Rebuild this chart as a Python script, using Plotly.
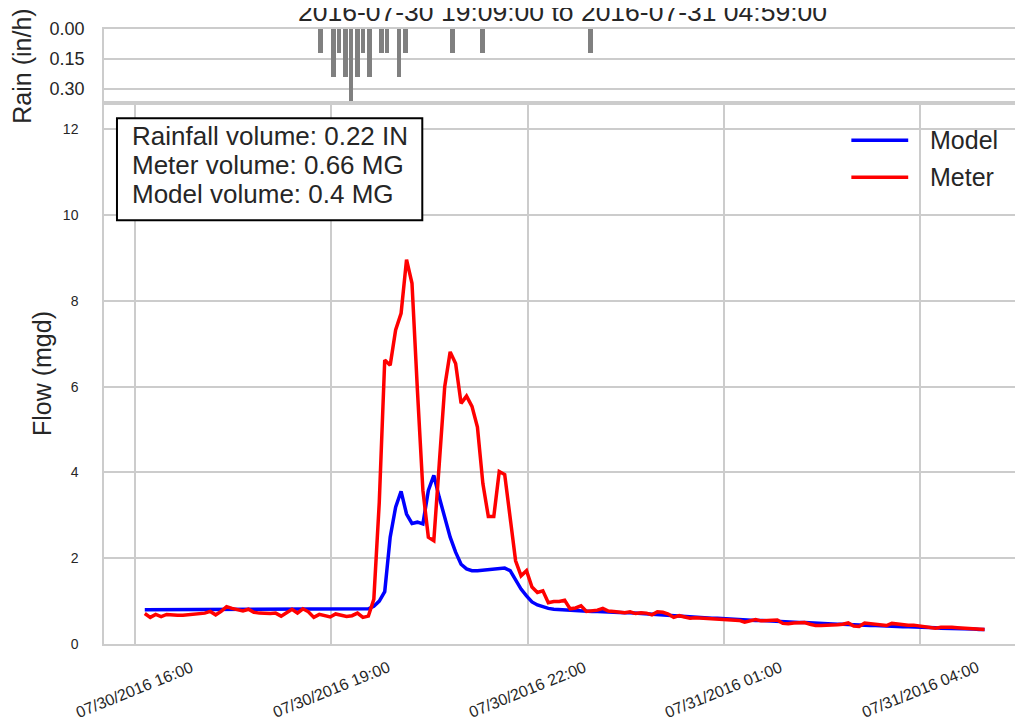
import pandas as pd
import plotly.graph_objects as go

# ── Data ──────────────────────────────────────────────────────────────────────
times = pd.date_range("2016-07-30 16:09", periods=155, freq="5min")

meter = [
    0.71, 0.62, 0.69, 0.64, 0.69, 0.67, 0.67, 0.67, 0.68, 0.69,
    0.70, 0.72, 0.76, 0.68, 0.76, 0.87, 0.83, 0.79, 0.77, 0.81,
    0.74, 0.72, 0.71, 0.71, 0.72, 0.65, 0.73, 0.81, 0.72, 0.82,
    0.75, 0.62, 0.69, 0.67, 0.63, 0.70, 0.67, 0.64, 0.66, 0.72,
    0.62, 0.65, 1.04, 3.30, 6.62, 6.50, 7.32, 7.71, 8.96, 8.41,
    5.90, 3.58, 2.49, 2.41, 4.20, 6.00, 6.81, 6.54, 5.61, 5.78,
    5.54, 5.06, 3.74, 2.97, 2.97, 4.02, 3.95, 2.95, 1.94, 1.59,
    1.71, 1.33, 1.20, 1.24, 0.96, 0.99, 0.99, 1.02, 0.82, 0.84,
    0.89, 0.76, 0.77, 0.79, 0.83, 0.77, 0.76, 0.74, 0.73, 0.75,
    0.71, 0.73, 0.72, 0.68, 0.75, 0.74, 0.70, 0.62, 0.66, 0.63,
    0.60, 0.61, 0.60, 0.60, 0.59, 0.58, 0.58, 0.57, 0.56, 0.55,
    0.51, 0.55, 0.57, 0.54, 0.55, 0.57, 0.56, 0.48, 0.47, 0.49,
    0.49, 0.50, 0.46, 0.43, 0.43, 0.43, 0.44, 0.45, 0.46, 0.49,
    0.42, 0.41, 0.49, 0.47, 0.46, 0.45, 0.43, 0.48, 0.46, 0.45,
    0.44, 0.44, 0.42, 0.40, 0.38, 0.37, 0.39, 0.40, 0.39, 0.38,
    0.37, 0.36, 0.35, 0.35, 0.34,
]

model = [
    0.80, 0.80, 0.80, 0.80, 0.80, 0.80, 0.80, 0.80, 0.80, 0.80,
    0.80, 0.80, 0.80, 0.80, 0.80, 0.80, 0.80, 0.80, 0.80, 0.80,
    0.81, 0.81, 0.81, 0.81, 0.81, 0.81, 0.81, 0.81, 0.81, 0.81,
    0.81, 0.81, 0.81, 0.81, 0.81, 0.81, 0.81, 0.81, 0.81, 0.81,
    0.81, 0.82, 0.88, 1.00, 1.22, 2.49, 3.19, 3.56, 3.03, 2.81,
    2.84, 2.80, 3.58, 3.93, 3.42, 2.95, 2.49, 2.14, 1.86, 1.75,
    1.71, 1.71, 1.72, 1.73, 1.73, 1.74, 1.77, 1.71, 1.49, 1.28,
    1.12, 0.98, 0.91, 0.86, 0.83, 0.81, 0.80, 0.79, 0.78, 0.78,
    0.77, 0.77, 0.76, 0.76, 0.75, 0.75, 0.74, 0.74, 0.73, 0.73,
    0.72, 0.72, 0.71, 0.70, 0.70, 0.69, 0.68, 0.67, 0.66, 0.65,
    0.63, 0.62, 0.62, 0.61, 0.60, 0.60, 0.59, 0.59, 0.58, 0.57,
    0.56, 0.56, 0.55, 0.55, 0.54, 0.53, 0.53, 0.52, 0.51, 0.51,
    0.50, 0.50, 0.49, 0.48, 0.48, 0.47, 0.47, 0.46, 0.46, 0.45,
    0.45, 0.44, 0.44, 0.43, 0.43, 0.42, 0.42, 0.41, 0.41, 0.40,
    0.40, 0.40, 0.39, 0.39, 0.38, 0.38, 0.37, 0.37, 0.37, 0.36,
    0.36, 0.35, 0.35, 0.34, 0.34,
]

rain_times = [
    "2016-07-30 18:50", "2016-07-30 19:02", "2016-07-30 19:07", "2016-07-30 19:13",
    "2016-07-30 19:18", "2016-07-30 19:24", "2016-07-30 19:29", "2016-07-30 19:35",
    "2016-07-30 19:46", "2016-07-30 19:51", "2016-07-30 20:02", "2016-07-30 20:08",
    "2016-07-30 20:51", "2016-07-30 21:19", "2016-07-30 22:58",
]
rain = [0.12, 0.24, 0.12, 0.24, 0.36, 0.24, 0.12, 0.24,
        0.12, 0.12, 0.24, 0.12, 0.12, 0.12, 0.12]

tick_times = pd.to_datetime(["2016-07-30 16:00", "2016-07-30 19:00", "2016-07-30 22:00",
                             "2016-07-31 01:00", "2016-07-31 04:00"])
flow_ticks = [0, 2, 4, 6, 8, 10, 12]
rain_ticks = [0.0, 0.15, 0.30]

title = "2016-07-30 19:09:00 to 2016-07-31 04:59:00"
summary = ["Rainfall volume: 0.22 IN", "Meter volume: 0.66 MG", "Model volume: 0.4 MG"]
series = [("Model", model, "#0000ff"), ("Meter", meter, "#ff0000")]

# ── Style ─────────────────────────────────────────────────────────────────────
FONT = "Liberation Sans, Arial, Helvetica, sans-serif"
GRID = "#cccccc"
TXT = "#262626"
X_RANGE = ["2016-07-30 15:31:36", "2016-07-31 05:32:24"]
SPLIT = 0.8795   # rain panel sits on top of the flow panel

fig = go.Figure()

fig.add_trace(go.Bar(x=rain_times, y=rain, width=264000, marker_color="#808080",
                     marker_line_width=0, showlegend=False, xaxis="x2", yaxis="y2"))
for name, vals, col in series:
    fig.add_trace(go.Scatter(x=times, y=vals, mode="lines", name=name, showlegend=False,
                             line=dict(color=col, width=3.5)))

axis_common = dict(showline=True, linecolor=GRID, linewidth=1.5, mirror=True,
                   gridcolor=GRID, gridwidth=1.5, zeroline=False, ticks="")

# page has an 8px body margin, so the figure is shifted by that amount
fig.update_layout(
    width=1023, height=728,
    margin=dict(l=96, r=8, t=21, b=92),
    paper_bgcolor="white", plot_bgcolor="white",
    font=dict(family=FONT, color=TXT),
    bargap=0,
    xaxis=dict(**axis_common, domain=[0, 1], range=X_RANGE, type="date",
               tick0="2016-07-30 16:00", dtick=3 * 3600 * 1000, showticklabels=False),
    yaxis=dict(**axis_common, domain=[0, SPLIT], range=[0, 12.61],
               tickvals=flow_ticks, tickfont=dict(size=14), ticklabelstandoff=21,
               title=dict(text="Flow (mgd)", font=dict(size=25), standoff=4)),
    xaxis2=dict(**axis_common, anchor="y2", matches="x", range=X_RANGE, type="date",
                showgrid=False, showticklabels=False),
    yaxis2=dict(**axis_common, domain=[SPLIT, 1], anchor="x2", range=[0.37, 0],
                tickvals=rain_ticks, ticktext=["0.00", "0.15", "0.30"],
                tickfont=dict(size=18), ticklabelstandoff=14,
                title=dict(text="Rain (in/h)", font=dict(size=25), standoff=14)),
)

# title, partly above the page edge as in the source image
fig.add_annotation(text=title, xref="paper", yref="paper", x=0.5, y=1.0277,
                   xanchor="center", yanchor="middle", showarrow=False,
                   font=dict(size=26.5, color=TXT))

# volume summary box
fig.add_shape(type="rect", xref="paper", yref="paper", x0=0.01415, x1=0.3471,
              y0=0.6889, y1=0.8550, line=dict(color="black", width=2),
              fillcolor="white", layer="above")
for i, line in enumerate(summary):
    fig.add_annotation(text=line, xref="paper", yref="paper", x=0.0283,
                       y=0.8257 - i * 0.0472, xanchor="left", yanchor="middle",
                       showarrow=False, font=dict(size=26, color=TXT))

# legend drawn by hand so the line samples match the original length
for i, (name, _, col) in enumerate(series):
    ly = 0.8192 - i * 0.0602
    fig.add_shape(type="line", xref="paper", yref="paper", x0=0.815, x1=0.877,
                  y0=ly, y1=ly, line=dict(color=col, width=3.5))
    fig.add_annotation(text=name, xref="paper", yref="paper", x=0.8988, y=ly,
                       xanchor="left", yanchor="middle", showarrow=False,
                       font=dict(size=25, color=TXT))

# rotated date labels, centred under each grid line
for t in tick_times:
    fig.add_annotation(text=t.strftime("%m/%d/%Y %H:%M"), x=t, xref="x",
                       y=-0.0733, yref="paper", showarrow=False, textangle=-22,
                       xanchor="center", yanchor="middle",
                       font=dict(size=16, color=TXT))

fig.write_html("out.html")
